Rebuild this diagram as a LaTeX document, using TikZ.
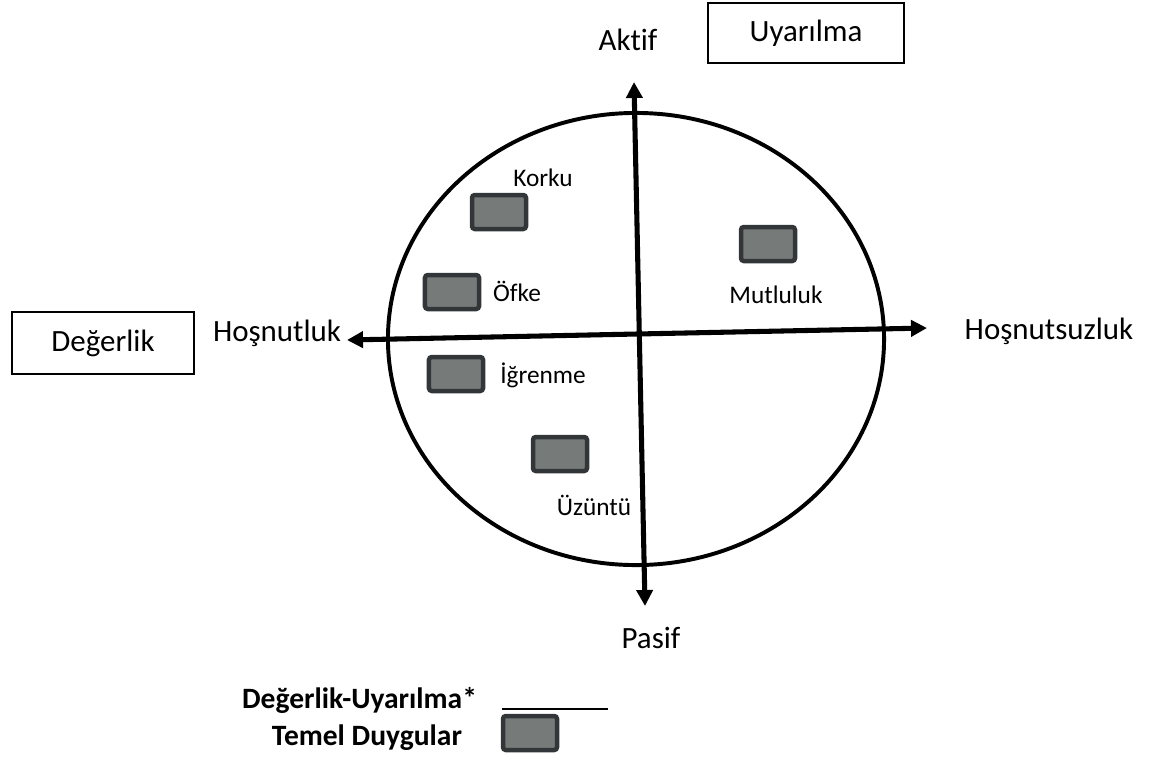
\documentclass[tikz,border=0pt]{standalone}
\usepackage{fontspec}
\setmainfont{Carlito}[Ligatures=NoCommon]
\usetikzlibrary{arrows.meta, positioning}
\definecolor{EmoFill}{RGB}{118, 122, 121}
\definecolor{EmoEdge}{RGB}{50, 54, 57}

\begin{document}
\begin{tikzpicture}[x=0.025cm, y=-0.025cm,
        axis/.style={line width=3.6pt,
                     {Triangle[length=0.4cm, width=0.4cm]}-{Triangle[length=0.4cm, width=0.4cm]}},
        pole/.style={font=\fontsize{22}{26}\selectfont},
        labelbox/.style={draw, line width=0.9pt, font=\fontsize{22}{26}\selectfont},
        emo/.style={draw=EmoEdge, fill=EmoFill, line width=3.2pt, rounded corners=2pt,
                    minimum width=1.35cm, minimum height=0.85cm, inner sep=0pt},
        emolabel/.style={font=\fontsize{18}{22}\selectfont},
        legend/.style={font=\bfseries\fontsize{21}{25}\selectfont, anchor=east}
    ]
    \useasboundingbox (0,0) rectangle (1156,758);

    \draw[line width=2.8pt] (636,339) ellipse [x radius=6.2cm, y radius=5.65cm];

    \coordinate (vtop) at (634,82);
    \coordinate (vbot) at (645,606);
    \coordinate (hleft) at (347,340);
    \coordinate (hright) at (927,328);
    \draw[axis] (vbot) -- (vtop);
    \draw[axis] (hleft) -- (hright);

    \node[pole] (aktif) at (628,40) {Aktif};
    \node[pole] (pasif) at (651,638) {Pasif};
    \node[pole] (hosnut) at (277,333) {Hoşnutluk};
    \node[pole] (hosnutsuz) at (1049,331) {Hoşnutsuzluk};
    \node[labelbox, minimum width=4.9cm, minimum height=1.5cm] (uyarilma) at (806,33) {Uyarılma};
    \node[labelbox, minimum width=4.55cm, minimum height=1.55cm] (degerlik) at (103,343) {Değerlik};

    \node[emo] (korku) at (499,212) {};
    \node[emolabel] (korkut) at (543,178) {Korku};
    \node[emo] (ofke) at (452,292) {};
    \node[emolabel] (ofket) at (517,291) {Öfke};
    \node[emo] (igrenme) at (456,374) {};
    \node[emolabel] (igrenmet) at (543,375) {İğrenme};
    \node[emo] (uzuntu) at (560,454) {};
    \node[emolabel] (uzuntut) at (594,505) {Üzüntü};
    \node[emo] (mutluluk) at (768,244) {};
    \node[emolabel] (mutlulukt) at (776,295) {Mutluluk};

    \node[legend] (legline) at (482,700) {Değerlik-Uyarılma*};
    \node[legend] (legbox) at (467,738) {Temel Duygular};
    \coordinate (lineA) at (502,709);
    \coordinate (lineB) at (608,709);
    \draw[line width=1pt] (lineA) -- (lineB);
    \node[emo] (legemo) at (530,733) {};
\end{tikzpicture}
\end{document}
